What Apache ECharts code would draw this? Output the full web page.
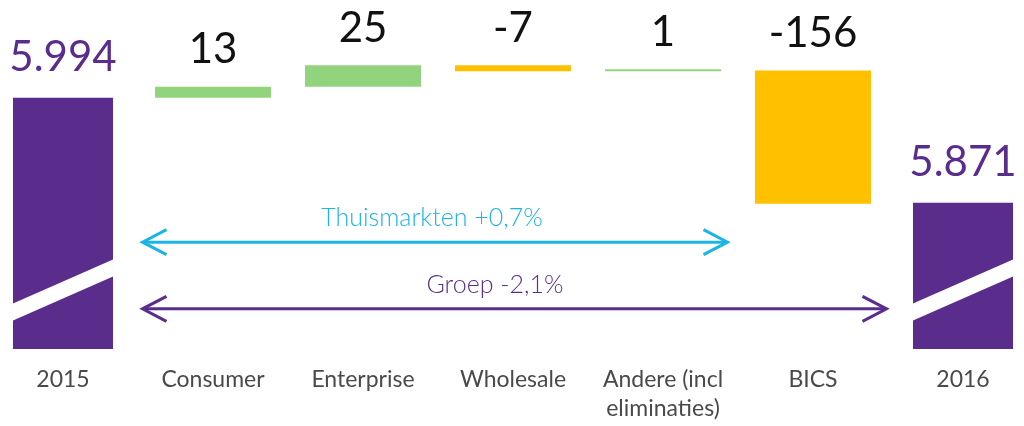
<!DOCTYPE html>
<html><head><meta charset="utf-8">
<script src="https://cdn.jsdelivr.net/npm/echarts@6/dist/echarts.min.js"></script>
<style>html,body{margin:0;padding:0;background:#fff}#c{width:1024px;height:426px}</style>
</head><body><div id="c"></div>
<script>
// ---- data ----
const categories = ['2015', 'Consumer', 'Enterprise', 'Wholesale', 'Andere (incl\neliminaties)', 'BICS', '2016'];
const startTotal = 5994;   // 2015
const endTotal = 5871;     // 2016
const deltas = [13, 25, -7, 1, -156]; // Consumer .. BICS
const arrowLabels = ['Thuismarkten +0,7%', 'Groep -2,1%'];
const arrowFrom = [0.53, 0.53];
const arrowTo = [4.43, 5.49];
const arrowLevel = [5825, 5747];
const arrowLabelX = [2.46, 2.88];
const arrowLabelLevel = [5853, 5775];

// ---- styles ----
const PURPLE = '#5a2d8c', CYAN = '#1cb4e4', GREEN = '#92d47e', YELLOW = '#ffc000';
const FONT = 'Lato, "Open Sans", sans-serif';
const BREAK_VALUE = 5769;

// build waterfall pieces
const baseData = ['-'], deltaData = ['-'];
let run = startTotal;
deltas.forEach(d => {
  const next = run + d;
  baseData.push(Math.min(run, next));
  deltaData.push({ value: Math.abs(d), itemStyle: { color: d >= 0 ? GREEN : YELLOW } });
  run = next;
});
baseData.push('-'); deltaData.push('-');
const totalsData = [[0, startTotal], [categories.length - 1, endTotal]];
const arrowData = arrowLabels.map((t, i) => [arrowFrom[i], arrowTo[i], arrowLevel[i], arrowLabelX[i], arrowLabelLevel[i], i]);

const fmtThousands = v => String(v).replace(/\B(?=(\d{3})+(?!\d))/g, '.');

const chart = echarts.init(document.getElementById('c'), null, { renderer: 'canvas' });
chart.setOption({
  animation: false,
  backgroundColor: '#fff',
  grid: { left: -12, right: -14, top: 20, bottom: 77, containLabel: false, outerBoundsMode: 'none' },
  xAxis: [
    {
      type: 'category', data: categories,
      axisLine: { show: false }, axisTick: { show: false }, splitLine: { show: false },
      axisLabel: { interval: 0, fontSize: 23, color: '#4a4a4a', margin: 16, lineHeight: 29, fontFamily: FONT }
    },
    { type: 'value', min: -0.5, max: 6.5, show: false, splitLine: { show: false } }
  ],
  yAxis: { type: 'value', min: 5700, max: 6085, show: false, splitLine: { show: false } },
  series: [
    {
      type: 'bar', stack: 'w', data: baseData, barWidth: 116,
      itemStyle: { color: 'transparent' }, silent: true
    },
    {
      type: 'bar', stack: 'w', data: deltaData, barWidth: 116, barMinHeight: 2,
      label: {
        show: true, position: 'top', distance: 16, fontSize: 42, color: '#111', fontFamily: FONT,
        formatter: p => String(deltas[p.dataIndex - 1])
      }
    },
    {
      type: 'custom', xAxisIndex: 0, yAxisIndex: 0, data: totalsData, z: 5,
      encode: { x: 0, y: 1 },
      renderItem: function (params, api) {
        const idx = api.value(0), val = api.value(1);
        const top = api.coord([idx, val]);
        const bottom = api.coord([idx, 5700]);
        const w = api.size([1, 0])[0] * 0.667;
        const x0 = top[0] - w / 2, x1 = top[0] + w / 2;
        const yc = api.coord([idx, BREAK_VALUE])[1];
        const rise = w * 0.22, half = 8.5;
        return {
          type: 'group', children: [
            { type: 'rect', shape: { x: x0, y: top[1], width: w, height: bottom[1] - top[1] }, style: { fill: PURPLE } },
            { type: 'polygon', shape: { points: [[x0, yc + rise - half], [x1, yc - rise - half], [x1, yc - rise + half], [x0, yc + rise + half]] }, style: { fill: '#fff' } },
            { type: 'text', style: { text: fmtThousands(val), x: top[0], y: top[1] - 19, align: 'center', verticalAlign: 'bottom', fontSize: 42, fontFamily: FONT, fill: PURPLE } }
          ]
        };
      }
    },
    {
      type: 'custom', xAxisIndex: 1, yAxisIndex: 0, data: arrowData, z: 6,
      renderItem: function (params, api) {
        const i = api.value(5);
        const color = i === 0 ? CYAN : PURPLE;
        const a = api.coord([api.value(0), api.value(2)]);
        const b = api.coord([api.value(1), api.value(2)]);
        const t = api.coord([api.value(3), api.value(4)]);
        const ax = 24, ay = 12.5;
        const ls = { stroke: color, lineWidth: 3, fill: null };
        return {
          type: 'group', children: [
            { type: 'line', shape: { x1: a[0] + 1, y1: a[1], x2: b[0] - 1, y2: b[1] }, style: ls },
            { type: 'polyline', shape: { points: [[a[0] + ax, a[1] - ay], [a[0], a[1]], [a[0] + ax, a[1] + ay]] }, style: ls },
            { type: 'polyline', shape: { points: [[b[0] - ax, b[1] - ay], [b[0], b[1]], [b[0] - ax, b[1] + ay]] }, style: ls },
            { type: 'text', style: { text: arrowLabels[i], x: t[0], y: t[1], align: 'center', verticalAlign: 'middle', fontSize: 25, fontWeight: 300, fontFamily: FONT, fill: color } }
          ]
        };
      }
    }
  ]
});
</script>
</body></html>
